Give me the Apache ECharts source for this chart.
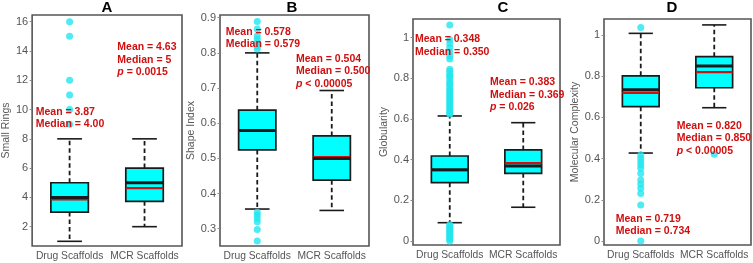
<!DOCTYPE html>
<html>
<head>
<meta charset="utf-8">
<script src="https://cdn.jsdelivr.net/npm/echarts@6/dist/echarts.min.js"></script>
<style>
html,body{margin:0;padding:0;background:#fff;}
#chart{width:753px;height:263px;}
</style>
</head>
<body>
<div id="chart"></div>
<script>
const categories = ['Drug Scaffolds', 'MCR Scaffolds'];
const panelTitles = ['A', 'B', 'C', 'D'];
const yNames = ['Small Rings', 'Shape Index', 'Globularity', 'Molecular Complexity'];

// box stats per category: [lower whisker, Q1, median, Q3, upper whisker, mean]
const boxA = [[1, 3, 4, 5, 8, 3.87], [2, 3.73, 5, 6, 8, 4.63]];
const boxB = [[0.356, 0.524, 0.579, 0.637, 0.800, 0.578], [0.352, 0.438, 0.500, 0.564, 0.693, 0.504]];
const boxC = [[0.090, 0.287, 0.350, 0.418, 0.615, 0.348], [0.166, 0.333, 0.369, 0.448, 0.582, 0.383]];
const boxD = [[0.427, 0.652, 0.734, 0.802, 1.008, 0.719], [0.647, 0.744, 0.850, 0.895, 1.049, 0.820]];

// outliers: [drug outliers, mcr outliers]
const outA = [[16, 15, 12, 11, 10, 9], []];
const outB = [[0.889, 0.868, 0.848, 0.838, 0.828, 0.818, 0.811,
               0.347, 0.339, 0.330, 0.320, 0.298, 0.265], []];
const outC = [[1.062, 0.99, 0.97, 0.95, 0.93, 0.91, 0.895, 0.845, 0.835, 0.82, 0.81, 0.80, 0.785,
               0.775, 0.765, 0.75, 0.74, 0.73, 0.72, 0.71, 0.70, 0.69, 0.68, 0.67, 0.66, 0.65,
               0.64, 0.63, 0.625,
               0.0, 0.008, 0.016, 0.024, 0.032, 0.04, 0.048, 0.056, 0.064, 0.072, 0.08], []];
const outD = [[1.037, 0.417, 0.401, 0.385, 0.369, 0.353, 0.328, 0.296, 0.277, 0.256, 0.231, 0.175, 0.0], [0.421]];

// axis tick labels
const ticksA = [2, 4, 6, 8, 10, 12, 14, 16];
const ticksB = [0.3, 0.4, 0.5, 0.6, 0.7, 0.8, 0.9];
const ticksC = [0, 0.2, 0.4, 0.6, 0.8, 1];
const ticksD = [0, 0.2, 0.4, 0.6, 0.8, 1];

// annotation texts: [drug text lines, mcr text lines]
const notesA = [['Mean = 3.87', 'Median = 4.00'], ['Mean = 4.63', 'Median = 5', '{i|p} = 0.0015']];
const notesB = [['Mean = 0.578', 'Median = 0.579'], ['Mean = 0.504', 'Median = 0.500', '{i|p} < 0.00005']];
const notesC = [['Mean = 0.348', 'Median = 0.350'], ['Mean = 0.383', 'Median = 0.369', '{i|p} = 0.026']];
const notesD = [['Mean = 0.719', 'Median = 0.734'], ['Mean = 0.820', 'Median = 0.850', '{i|p} < 0.00005']];

const boxes = [boxA, boxB, boxC, boxD];
const outs = [outA, outB, outC, outD];
const ticks = [ticksA, ticksB, ticksC, ticksD];
const notes = [notesA, notesB, notesC, notesD];

// layout (pixels)
const grids = [
  {left: 28, top: 15, width: 154, height: 231},
  {left: 220, top: 15, width: 149, height: 231},
  {left: 413, top: 19, width: 147, height: 226},
  {left: 604, top: 19, width: 147, height: 226}
];
const yRanges = [[0.68, 16.46], [0.2509, 0.9077], [-0.0197, 1.092], [-0.0194, 1.0777]];
const nameGaps = [19, 21, 21, 20];
const titleX = [107, 292, 503, 672];
const notePos = [
  [[35.7, 105.9], [117.3, 41.2]],
  [[225.7, 25.5], [296, 52.9]],
  [[415, 33.2], [490, 76.2]],
  [[615.7, 212.6], [676.7, 119.9]]
];

const CYAN = '#00FFFF';
const DOT = '#22e6ef';
const RED = '#d10f0f';
const DARK = '#1a1a1a';

function renderBox(params, api) {
  const idx = api.value(0);
  const low = api.value(1), q1 = api.value(2), med = api.value(3),
        q3 = api.value(4), high = api.value(5), mean = api.value(6);
  const band = api.size([1, 0])[0];
  const bw = band * 0.5, cw = band * 0.33;
  const x = api.coord([idx, low])[0];
  const yLow = api.coord([idx, low])[1];
  const yQ1 = api.coord([idx, q1])[1];
  const yMed = api.coord([idx, med])[1];
  const yQ3 = api.coord([idx, q3])[1];
  const yHigh = api.coord([idx, high])[1];
  const yMean = api.coord([idx, mean])[1];
  const dash = {stroke: DARK, lineWidth: 1.8, lineDash: [4.5, 3]};
  const solid = {stroke: DARK, lineWidth: 1.6};
  return {
    type: 'group',
    children: [
      {type: 'line', shape: {x1: x, y1: yQ3, x2: x, y2: yHigh}, style: dash},
      {type: 'line', shape: {x1: x, y1: yQ1, x2: x, y2: yLow}, style: dash},
      {type: 'line', shape: {x1: x - cw / 2, y1: yHigh, x2: x + cw / 2, y2: yHigh}, style: solid},
      {type: 'line', shape: {x1: x - cw / 2, y1: yLow, x2: x + cw / 2, y2: yLow}, style: solid},
      {type: 'rect', shape: {x: x - bw / 2, y: yQ3, width: bw, height: yQ1 - yQ3},
       style: {fill: CYAN, stroke: DARK, lineWidth: 1.7}},
      {type: 'line', shape: {x1: x - bw / 2, y1: yMean, x2: x + bw / 2, y2: yMean},
       style: {stroke: RED, lineWidth: 2.2}},
      {type: 'line', shape: {x1: x - bw / 2, y1: yMed, x2: x + bw / 2, y2: yMed},
       style: {stroke: DARK, lineWidth: 3}}
    ]
  };
}

const option = {
  animation: false,
  backgroundColor: '#fff',
  grid: grids.map(g => Object.assign({show: true, borderColor: '#555', borderWidth: 1.6, backgroundColor: 'transparent'}, g)),
  xAxis: grids.map((g, i) => ({
    type: 'category',
    gridIndex: i,
    data: categories,
    boundaryGap: true,
    axisLine: {show: false},
    axisTick: {show: false},
    splitLine: {show: false},
    axisLabel: {color: '#555', fontSize: 10.3, fontFamily: 'Liberation Sans, Arial', margin: 5, interval: 0}
  })),
  yAxis: grids.map((g, i) => ({
    type: 'value',
    gridIndex: i,
    min: yRanges[i][0],
    max: yRanges[i][1],
    name: yNames[i],
    nameLocation: 'middle',
    nameGap: nameGaps[i],
    nameTextStyle: {color: '#595959', fontSize: 10.5, fontFamily: 'Liberation Sans, Arial'},
    axisLine: {show: false},
    splitLine: {show: false},
    axisTick: {show: true, length: 2.5, customValues: ticks[i], lineStyle: {color: '#888'}},
    axisLabel: {show: true, customValues: ticks[i], color: '#555', fontSize: 11,
                fontFamily: 'Liberation Sans, Arial', margin: 4}
  })),
  series: [],
  graphic: []
};

boxes.forEach((b, i) => {
  option.series.push({
    type: 'custom',
    xAxisIndex: i,
    yAxisIndex: i,
    renderItem: renderBox,
    encode: {x: 0, y: [1, 2, 3, 4, 5]},
    data: b.map((s, k) => [k].concat(s)),
    z: 2
  });
  const pts = [];
  outs[i].forEach((arr, k) => arr.forEach(v => pts.push([k, v])));
  option.series.push({
    type: 'scatter',
    xAxisIndex: i,
    yAxisIndex: i,
    symbol: 'circle',
    symbolSize: 7,
    itemStyle: {color: DOT},
    data: pts,
    z: 3
  });
  option.graphic.push({
    type: 'text', z: 100,
    x: titleX[i], y: 8,
    style: {text: panelTitles[i], fill: '#000', font: 'bold 15px "Liberation Sans", Arial',
            align: 'center', verticalAlign: 'middle'}
  });
  notes[i].forEach((lines, k) => {
    option.graphic.push({
      type: 'text', z: 100,
      x: notePos[i][k][0], y: notePos[i][k][1],
      style: {
        text: lines.join('\n'),
        fill: RED,
        font: 'bold 10.5px "Liberation Sans", Arial',
        lineHeight: 12.3,
        align: 'left',
        verticalAlign: 'top',
        rich: {i: {fontStyle: 'italic', fontWeight: 'bold', fontSize: 10.5, fill: RED, lineHeight: 12.3,
                   fontFamily: '"Liberation Sans", Arial'}}
      }
    });
  });
});

const chart = echarts.init(document.getElementById('chart'), null, {renderer: 'canvas'});
chart.setOption(option);
</script>
</body>
</html>
